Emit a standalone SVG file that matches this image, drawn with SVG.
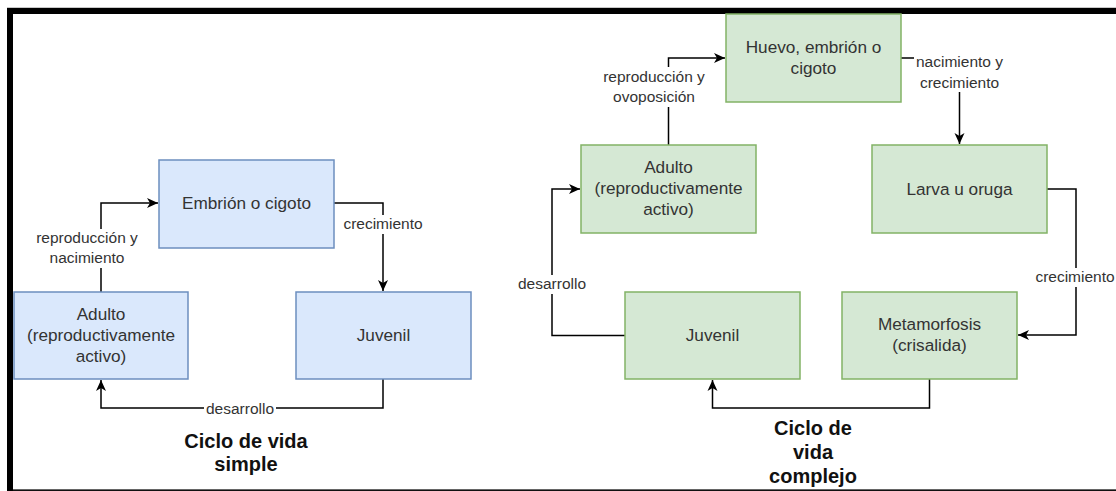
<svg xmlns="http://www.w3.org/2000/svg" width="1116" height="491" viewBox="0 0 1116 491">
<style>
.blue{fill:#dae8fc;stroke:#6c8ebf;stroke-width:1.5}
.green{fill:#d5e8d4;stroke:#82b366;stroke-width:1.5}
.nt{font-family:"Liberation Sans",Arial,sans-serif;font-size:17.2px;fill:#333;text-anchor:middle}
.lt{font-family:"Liberation Sans",Arial,sans-serif;font-size:15.5px;fill:#333;text-anchor:middle}
.tt{font-family:"Liberation Sans",Arial,sans-serif;font-size:20px;font-weight:bold;fill:#111;text-anchor:middle}
.edge{fill:none;stroke:#000;stroke-width:1.5;marker-end:url(#arr)}
.lbg{fill:#fff}
</style>
<defs>
<marker id="arr" markerUnits="userSpaceOnUse" viewBox="0 0 12 12" markerWidth="12" markerHeight="12" refX="11" refY="6" orient="auto">
<path d="M0,1 L11,6 L0,11 L3,6 Z" fill="#000"/>
</marker>
</defs>
<rect x="0" y="0" width="1116" height="491" fill="#fff"/>
<g id="frame">
<line x1="7" y1="7.5" x2="1116" y2="7.5" stroke="#c8c8c8" stroke-width="1"/>
<rect x="7" y="8" width="1109" height="6" fill="#000"/>
<rect x="7" y="8" width="6" height="483" fill="#000"/>
<line x1="13" y1="489.5" x2="1116" y2="489.5" stroke="#666" stroke-width="1"/>
<line x1="13" y1="490.5" x2="1116" y2="490.5" stroke="#111" stroke-width="1"/>
</g>
<g id="connectors">
<path class="edge" d="M101,292 V203 H158"/>
<path class="edge" d="M334,203 H383 V291"/>
<path class="edge" d="M383,379 V408 H101 V380"/>
<path class="edge" d="M668.5,145 V58 H725"/>
<path class="edge" d="M901,58 H959.5 V144"/>
<path class="edge" d="M1047,189 H1076 V335 H1018"/>
<path class="edge" d="M929.5,379 V408 H712.5 V380"/>
<path class="edge" d="M625,335.5 H552 V189 H580"/>
<rect class="lbg" x="33" y="229" width="108" height="39"/>
<text class="lt" x="87" y="243">reproducción y</text>
<text class="lt" x="87" y="263">nacimiento</text>
<rect class="lbg" x="342" y="215" width="82" height="19"/>
<text class="lt" x="383" y="229">crecimiento</text>
<rect class="lbg" x="204" y="399" width="72" height="19"/>
<text class="lt" x="240" y="413.5">desarrollo</text>
<rect class="lbg" x="600" y="67" width="108" height="40"/>
<text class="lt" x="654" y="82">reproducción y</text>
<text class="lt" x="654" y="102">ovoposición</text>
<rect class="lbg" x="914" y="52" width="91" height="40"/>
<text class="lt" x="959.5" y="67">nacimiento y</text>
<text class="lt" x="959.5" y="88">crecimiento</text>
<rect class="lbg" x="1034" y="268" width="82" height="19"/>
<text class="lt" x="1075" y="282">crecimiento</text>
<rect class="lbg" x="516" y="275" width="72" height="19"/>
<text class="lt" x="552" y="289">desarrollo</text>
</g>
<g id="n-embrion">
<rect class="blue" x="159" y="160" width="175" height="88"/>
<text class="nt" x="246.5" y="209">Embrión o cigoto</text>
</g>
<g id="n-adulto-simple">
<rect class="blue" x="14" y="292" width="174" height="87"/>
<text class="nt" x="101" y="320">Adulto</text>
<text class="nt" x="101" y="341">(reproductivamente</text>
<text class="nt" x="101" y="362">activo)</text>
</g>
<g id="n-juvenil-simple">
<rect class="blue" x="296" y="292" width="175" height="87"/>
<text class="nt" x="383.5" y="340.5">Juvenil</text>
</g>
<g id="t-simple">
<text class="tt" x="246" y="448">Ciclo de vida</text>
<text class="tt" x="246" y="471">simple</text>
</g>
<g id="n-huevo">
<rect class="green" x="726" y="14" width="175" height="88"/>
<text class="nt" x="813.5" y="53">Huevo, embrión o</text>
<text class="nt" x="813.5" y="74">cigoto</text>
</g>
<g id="n-adulto-complejo">
<rect class="green" x="581" y="145" width="175" height="88"/>
<text class="nt" x="668.5" y="173">Adulto</text>
<text class="nt" x="668.5" y="194">(reproductivamente</text>
<text class="nt" x="668.5" y="215">activo)</text>
</g>
<g id="n-larva">
<rect class="green" x="872" y="145" width="175" height="88"/>
<text class="nt" x="959.5" y="195">Larva u oruga</text>
</g>
<g id="n-juvenil-complejo">
<rect class="green" x="625" y="292" width="175" height="87"/>
<text class="nt" x="712.5" y="340.5">Juvenil</text>
</g>
<g id="n-metamorfosis">
<rect class="green" x="842" y="292" width="175" height="87"/>
<text class="nt" x="929.5" y="330">Metamorfosis</text>
<text class="nt" x="929.5" y="351">(crisalida)</text>
</g>
<g id="t-complejo">
<text class="tt" x="813" y="435">Ciclo de</text>
<text class="tt" x="813" y="459">vida</text>
<text class="tt" x="813" y="483">complejo</text>
</g>
</svg>
